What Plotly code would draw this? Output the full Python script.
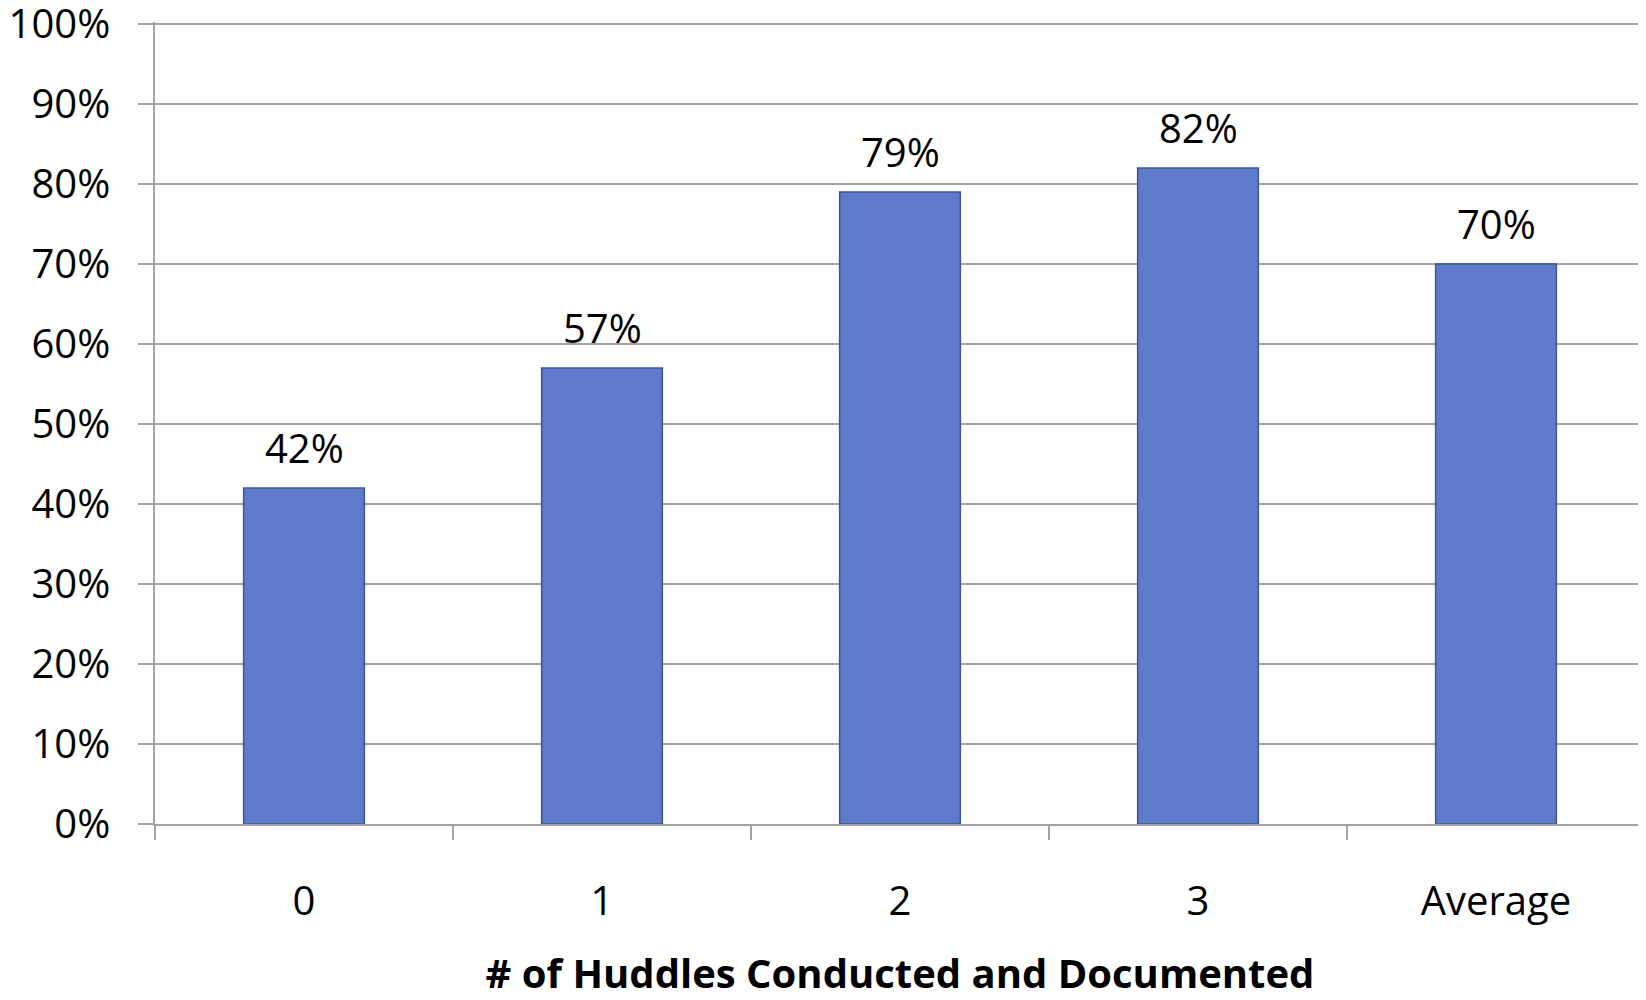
import plotly.graph_objects as go

categories = ["0", "1", "2", "3", "Average"]
values = [0.42, 0.57, 0.79, 0.82, 0.70]
value_labels = ["42%", "57%", "79%", "82%", "70%"]
y_ticks = [0, 0.1, 0.2, 0.3, 0.4, 0.5, 0.6, 0.7, 0.8, 0.9, 1.0]
y_tick_labels = ["0%", "10%", "20%", "30%", "40%", "50%", "60%", "70%", "80%", "90%", "100%"]
x_title = "# of Huddles Conducted and Documented"

FONT = "Open Sans"
GRID = "#a3a3a3"

fig = go.Figure()
fig.add_trace(go.Bar(
    x=categories,
    y=values,
    marker=dict(color="#5d7bca", line=dict(color="#3f548e", width=1.5)),
    hoverinfo="skip",
))

for c, v, lab in zip(categories, values, value_labels):
    fig.add_annotation(x=c, y=v, text=lab, showarrow=False, yanchor="bottom",
                       yshift=11, font=dict(family=FONT, size=40, color="#000000"))

fig.update_layout(
    width=1638, height=992,
    margin=dict(l=147, r=1, t=14, b=176, autoexpand=False),
    paper_bgcolor="white", plot_bgcolor="white",
    bargap=0.595,
    showlegend=False,
    font=dict(family=FONT, size=40, color="#000000"),
)
fig.update_yaxes(
    range=[0, 1.0025], tickvals=y_ticks, ticktext=y_tick_labels,
    showgrid=True, gridcolor=GRID, gridwidth=1.5,
    showline=True, linecolor=GRID, linewidth=1.5,
    ticks="outside", ticklen=15, tickcolor=GRID, tickwidth=1.5,
    ticklabelstandoff=20, ticklabeloverflow="allow", automargin=False,
    tickfont=dict(family=FONT, size=40, color="#000000"),
    zeroline=False,
)
fig.update_xaxes(
    showline=True, linecolor=GRID, linewidth=1.5,
    ticks="outside", ticklen=14, tickcolor=GRID, tickwidth=1.5,
    tickson="boundaries", automargin=False,
    ticklabelstandoff=41,
    tickfont=dict(family=FONT, size=40, color="#000000"),
    title=dict(text="<b>" + x_title + "</b>", font=dict(family=FONT, size=40, color="#000000"), standoff=38),
)

fig.write_html("out.html")
